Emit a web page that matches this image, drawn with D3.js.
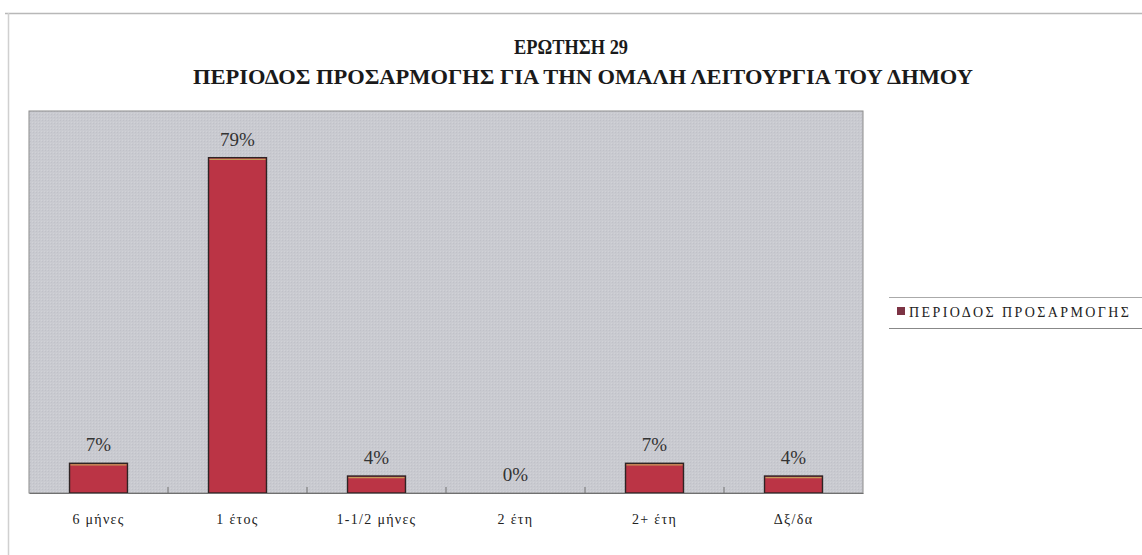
<!DOCTYPE html>
<html>
<head>
<meta charset="utf-8">
<script src="https://cdn.jsdelivr.net/npm/d3@7"></script>
<style>
  html, body { margin: 0; padding: 0; background: #fff; }
  svg { display: block; }
  .serif { font-family: "Liberation Serif", "Times New Roman", Times, "DejaVu Serif", serif; }
</style>
</head>
<body>
<svg id="chart" width="1142" height="555"></svg>
<script>
// Survey question 29: adjustment period for the smooth operation of the municipality
const categories = ["6 μήνες", "1 έτος", "1-1/2 μήνες", "2 έτη", "2+ έτη", "Δξ/δα"];
const values = [7, 79, 4, 0, 7, 4];
const valueLabels = ["7%", "79%", "4%", "0%", "7%", "4%"];
const titleLines = ["ΕΡΩΤΗΣΗ 29", "ΠΕΡΙΟΔΟΣ ΠΡΟΣΑΡΜΟΓΗΣ ΓΙΑ ΤΗΝ ΟΜΑΛΗ ΛΕΙΤΟΥΡΓΙΑ ΤΟΥ ΔΗΜΟΥ"];
const seriesName = "ΠΕΡΙΟΔΟΣ ΠΡΟΣΑΡΜΟΓΗΣ";

const rows = categories.map((c, i) => ({ cat: c, value: values[i], label: valueLabels[i] }));

const svg = d3.select("#chart");

// outer frame lines
svg.append("line").attr("x1", 5).attr("x2", 1142).attr("y1", 13.5).attr("y2", 13.5)
  .attr("stroke", "#b8b8b8").attr("stroke-width", 1.5);
svg.append("line").attr("x1", 8.5).attr("x2", 8.5).attr("y1", 13).attr("y2", 555)
  .attr("stroke", "#d0d0d0").attr("stroke-width", 1.5);

// title: tall condensed bold serif
const titleSpec = [
  { cx: 571, y: 54, len: 114 },
  { cx: 583, y: 84, len: 780 }
];
svg.append("g").selectAll("text").data(titleLines).join("text")
  .attr("class", "serif")
  .attr("x", (d, i) => titleSpec[i].cx).attr("y", (d, i) => titleSpec[i].y)
  .attr("text-anchor", "middle")
  .attr("font-weight", "bold").attr("font-size", 22)
  .attr("textLength", (d, i) => titleSpec[i].len)
  .attr("lengthAdjust", "spacingAndGlyphs")
  .attr("fill", "#1a1a1a")
  .text(d => d);

const plot = { left: 29, right: 863, top: 111, bottom: 493 };

const xb = d3.scaleBand().domain(categories).range([plot.left, plot.right]);
const x = d3.scaleBand().domain(categories).range([plot.left, plot.right])
  .paddingInner(0.583).paddingOuter(0.2915);
const y = d3.scaleLinear().domain([0, 90]).range([plot.bottom, plot.top]);

// fine-grained plot background
const defs = svg.append("defs");
const pat = defs.append("pattern").attr("id", "grain").attr("width", 3).attr("height", 3)
  .attr("patternUnits", "userSpaceOnUse");
pat.append("rect").attr("width", 3).attr("height", 3).attr("fill", "#c9cad0");
pat.append("rect").attr("width", 1).attr("height", 1).attr("fill", "#c0c1c8");
pat.append("rect").attr("x", 2).attr("y", 2).attr("width", 1).attr("height", 1).attr("fill", "#d1d2d7");

svg.append("rect").attr("x", plot.left).attr("y", plot.top)
  .attr("width", plot.right - plot.left).attr("height", plot.bottom - plot.top)
  .attr("fill", "url(#grain)").attr("stroke", "#8c8c8c").attr("stroke-width", 1);

// bars (zero-valued categories draw nothing)
const shown = rows.filter(r => r.value > 0);
const bars = svg.append("g");
bars.selectAll("rect").data(shown).join("rect")
  .attr("x", d => x(d.cat))
  .attr("y", d => y(d.value))
  .attr("width", x.bandwidth())
  .attr("height", d => y(0) - y(d.value))
  .attr("fill", "#bb3445")
  .attr("stroke", "#2e2424")
  .attr("stroke-width", 1.4);
// thin lit top edge on each bar
bars.selectAll("line").data(shown).join("line")
  .attr("x1", d => x(d.cat) + 1)
  .attr("x2", d => x(d.cat) + x.bandwidth() - 1)
  .attr("y1", d => y(d.value) + 1.6).attr("y2", d => y(d.value) + 1.6)
  .attr("stroke", "#c49a5a").attr("stroke-width", 1.2);

// value labels
svg.append("g").selectAll("text").data(rows).join("text")
  .attr("class", "serif")
  .attr("x", d => x(d.cat) + x.bandwidth() / 2)
  .attr("y", d => y(d.value) - 12)
  .attr("text-anchor", "middle")
  .attr("font-size", 19).attr("fill", "#333")
  .text(d => d.label);

// x axis
const axis = d3.axisBottom(xb).tickSize(0).tickPadding(21);
const gx = svg.append("g").attr("transform", `translate(0,${plot.bottom})`).call(axis);
gx.select(".domain").attr("stroke", "#707070").attr("stroke-width", 1.2);
gx.selectAll(".tick text").attr("class", "serif").attr("font-family", null)
  .attr("font-size", 14).attr("letter-spacing", 1.3).attr("fill", "#222");
// category separator ticks (pointing into the plot)
svg.append("g").selectAll("line").data(categories.slice(1)).join("line")
  .attr("x1", d => xb(d)).attr("x2", d => xb(d))
  .attr("y1", plot.bottom - 6).attr("y2", plot.bottom)
  .attr("stroke", "#707070");

// legend
const lg = svg.append("g");
lg.append("line").attr("x1", 889).attr("x2", 1142).attr("y1", 297.5).attr("y2", 297.5).attr("stroke", "#aaa");
lg.append("line").attr("x1", 889).attr("x2", 1142).attr("y1", 328.5).attr("y2", 328.5).attr("stroke", "#888");
lg.append("rect").attr("x", 897).attr("y", 307).attr("width", 8).attr("height", 8).attr("fill", "#7c3344");
lg.append("text").attr("class", "serif").attr("x", 909).attr("y", 317)
  .attr("font-size", 14).attr("letter-spacing", 2.4).attr("fill", "#222")
  .text(seriesName);
</script>
</body>
</html>
